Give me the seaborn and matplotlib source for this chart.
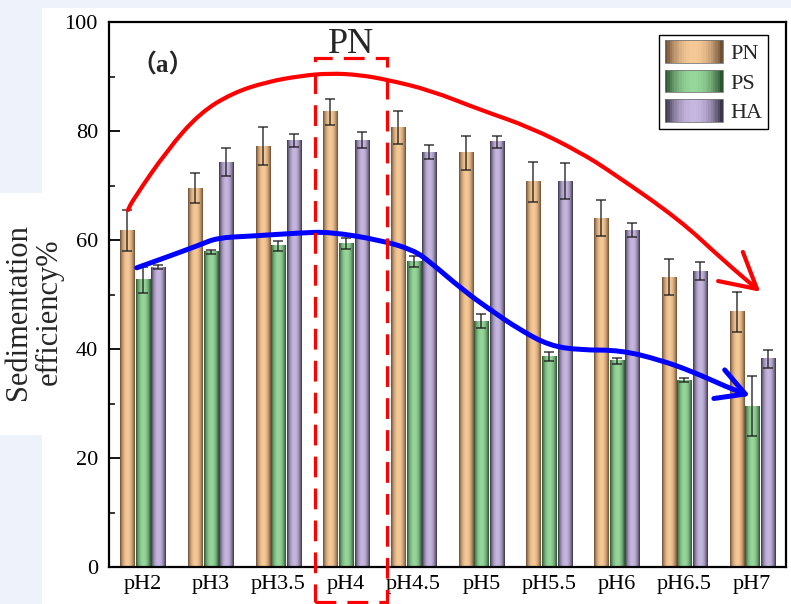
import numpy as np
import pandas as pd
import seaborn as sns
import matplotlib.pyplot as plt
from matplotlib.patches import Rectangle, FancyArrowPatch, Patch
from matplotlib.path import Path
from matplotlib.legend_handler import HandlerBase
from matplotlib.colors import to_rgb

ph_labels = ['pH2', 'pH3', 'pH3.5', 'pH4', 'pH4.5', 'pH5', 'pH5.5', 'pH6', 'pH6.5', 'pH7']
pn = [61.7, 69.5, 77.2, 83.5, 80.7, 76.0, 70.7, 64.0, 53.2, 46.8]
pn_err = [3.8, 2.8, 3.5, 2.4, 3.0, 3.1, 3.7, 3.3, 3.3, 3.7]
ps = [52.7, 57.8, 58.9, 59.3, 56.1, 45.1, 38.6, 37.8, 34.3, 29.5]
ps_err = [2.4, 0.4, 0.9, 1.0, 1.0, 1.3, 0.8, 0.5, 0.4, 5.5]
ha = [55.0, 74.3, 78.2, 78.3, 76.1, 78.0, 70.8, 61.8, 54.3, 38.2]
ha_err = [0.4, 2.6, 1.2, 1.5, 1.3, 1.1, 3.3, 1.3, 1.7, 1.6]
series = ['PN', 'PS', 'HA']

# trend curves (x in category units, y in %)
red_x = [-0.22, -0.15, 0.36, 0.84, 1.33, 1.83, 2.32, 2.76, 3.2, 3.61, 4.24, 4.98, 5.72, 6.46, 6.94, 7.93, 8.57, 9.12]
red_y = [65.5, 67.3, 76.5, 83.3, 87.0, 89.0, 90.1, 90.6, 90.3, 89.4, 87.5, 83.9, 80.7, 76.1, 72.3, 63.7, 56.3, 50.5]
blue_x = [-0.09, 0.36, 0.84, 1.1, 1.58, 2.32, 2.76, 3.5, 3.99, 4.24, 4.73, 5.13, 5.57, 6.01, 6.46, 7.05, 7.64, 8.13, 8.63, 8.97]
blue_y = [54.9, 56.9, 59.1, 60.4, 60.7, 61.3, 61.5, 60.0, 58.2, 56.0, 50.8, 47.2, 43.5, 40.6, 39.8, 39.8, 38.0, 35.8, 33.0, 31.4]

light = {'PN': '#F6C896', 'PS': '#96D69A', 'HA': '#C6B6E0'}
dark = {'PN': '#6E5036', 'PS': '#2C5432', 'HA': '#3A3548'}

df = pd.DataFrame({
    'pH': ph_labels * 3,
    'type': [s for s in series for _ in ph_labels],
    'value': pn + ps + ha,
})

sns.set_style('ticks')
plt.rcParams['font.family'] = ['Liberation Serif', 'Noto Sans CJK SC']


def grad_colors(d, l, n=40):
    t = np.linspace(0, 1, n)
    w = 1 - np.abs(2 * t - 1) ** 2.2
    d = np.array(to_rgb(d)); l = np.array(to_rgb(l))
    return d[None, :] * (1 - w[:, None]) + l[None, :] * w[:, None]


def smooth_path(xs, ys):
    # quadratic pieces through the midpoints, read points act as control points
    p = np.column_stack([xs, ys])
    mids = (p[:-1] + p[1:]) / 2
    verts = [p[0], mids[0]]
    codes = [Path.MOVETO, Path.LINETO]
    for k in range(1, len(p) - 1):
        verts += [p[k], mids[k]]
        codes += [Path.CURVE3, Path.CURVE3]
    verts.append(p[-1])
    codes.append(Path.LINETO)
    return Path(np.array(verts), codes)


fig = plt.figure(figsize=(7.91, 6.04), dpi=100, facecolor='#EEF2FB')
fig.patches.append(Rectangle((42 / 791, 0), 1, 1 - 8 / 604, transform=fig.transFigure,
                             facecolor='white', edgecolor='none', zorder=-10))
fig.patches.append(Rectangle((0, 1 - 435 / 604), 42 / 791, (435 - 193) / 604,
                             transform=fig.transFigure, facecolor='white',
                             edgecolor='none', zorder=-10))
ax = fig.add_axes([109 / 791, 37 / 604, 677 / 791, 545 / 604])

sns.barplot(data=df, x='pH', y='value', hue='type', order=ph_labels, hue_order=series,
            palette=[light[s] for s in series], width=0.69, gap=0.1, legend=False,
            edgecolor='#8a8a8a', linewidth=0.6, ax=ax, zorder=2)

errs = {'PN': pn_err, 'PS': ps_err, 'HA': ha_err}
vals = {'PN': pn, 'PS': ps, 'HA': ha}
for cont, s in zip(ax.containers, series):
    cols = grad_colors(dark[s], light[s])
    xs = []
    for bar in cont:
        x0 = bar.get_x(); w = bar.get_width(); h = bar.get_height()
        ax.imshow(cols[None, :, :], extent=[x0, x0 + w, 0, h], aspect='auto',
                  interpolation='bilinear', zorder=2.5)
        xs.append(x0 + w / 2)
    ax.errorbar(xs, vals[s], yerr=errs[s], fmt='none', ecolor='#1a1a1a',
                elinewidth=1.1, capsize=3.8, capthick=1.1, zorder=4, alpha=0.85)

# trend arrows
for xx, yy, c, lw, hl in [(red_x, red_y, '#FF0000', 3.0, 1.25), (blue_x, blue_y, '#0000FF', 3.6, 1.0)]:
    arr = FancyArrowPatch(path=smooth_path(xx, yy),
                          arrowstyle=f'->,head_length={hl},head_width={hl * 0.55}',
                          mutation_scale=20, color=c, lw=lw, zorder=5,
                          shrinkA=0, shrinkB=0, capstyle='round', joinstyle='round')
    ax.add_patch(arr)

# dashed highlight box around pH4
ax.add_patch(Rectangle((2.54, -6.4), 1.07, 99.8, fill=False, edgecolor='#FF0000',
                       lw=2.3, linestyle=(0, (6.5, 3.5)), clip_on=False, zorder=6))
ax.text(3.07, 94.4, 'PN', ha='center', va='baseline', fontsize=26, zorder=7)
ax.text(-0.17, 92.0, '（a）', ha='left', va='center', fontsize=18, fontweight='bold',
        family=['Liberation Serif', 'Noto Sans CJK SC'])

ax.set_xlim(-0.5, 9.5)
ax.set_ylim(0, 100)
ax.set_yticks([0, 20, 40, 60, 80, 100])
ax.set_yticks([10, 30, 50, 70, 90], minor=True)
ax.set_xlabel('')
ax.set_ylabel('')
ax.tick_params(axis='both', direction='in', labelsize=16, colors='black', width=1.3)
ax.tick_params(axis='y', length=8, pad=8)
ax.tick_params(axis='y', which='minor', length=4.5, direction='in', width=1.3)
ax.tick_params(axis='x', length=7, pad=6)
for sp in ax.spines.values():
    sp.set_visible(True)
    sp.set_linewidth(1.6)
    sp.set_color('black')

fig.text(34 / 791, 1 - 312 / 604, 'Sedimentation\nefficiency%', rotation=90,
         ha='center', va='center', fontsize=22, linespacing=1.05)


class GradHandler(HandlerBase):
    def __init__(self, d, l):
        super().__init__()
        self.cols = grad_colors(d, l, 24)

    def create_artists(self, legend, orig_handle, xdescent, ydescent, width, height,
                       fontsize, trans):
        out = []
        n = len(self.cols)
        for k, c in enumerate(self.cols):
            out.append(Rectangle((-xdescent + k * width / n, -ydescent), width / n * 1.05,
                                 height, facecolor=c, edgecolor='none', transform=trans))
        out.append(Rectangle((-xdescent, -ydescent), width, height, facecolor='none',
                             edgecolor='#777777', lw=0.6, transform=trans))
        return out


handles = [Patch(label=s) for s in series]
leg = ax.legend(handles=handles, labels=series,
                handler_map={h: GradHandler(dark[s], light[s]) for h, s in zip(handles, series)},
                loc='upper right', bbox_to_anchor=(0.98, 0.985), fontsize=16,
                frameon=True, fancybox=False, edgecolor='black', framealpha=1,
                handlelength=2.6, handleheight=1.2, labelspacing=0.25,
                handletextpad=0.35, borderpad=0.25, borderaxespad=0.2)
leg.get_frame().set_linewidth(1.0)
leg.set_zorder(8)

fig.savefig('out.png', dpi=100, facecolor=fig.get_facecolor())
